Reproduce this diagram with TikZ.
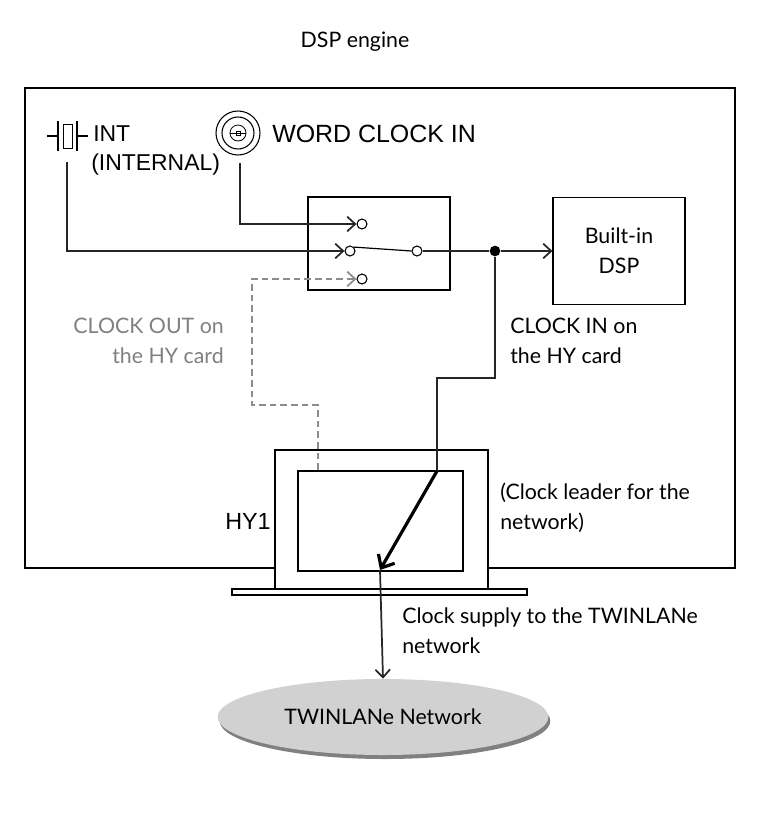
\documentclass[tikz,border=0pt]{standalone}
\usepackage{fontspec}
\setmainfont{Lato}
\newfontfamily\arialf{Liberation Sans}
\usetikzlibrary{arrows.meta,shapes.geometric}
\begin{document}
\begin{tikzpicture}[x=0.75pt,y=-0.75pt,
  txt/.style={font=\fontsize{16}{22.5}\selectfont,inner sep=0,align=left},
  atxt/.style={font=\arialf\fontsize{17.2}{23}\selectfont,inner sep=0,align=left},
  wire/.style={line width=1.3pt,draw=black!85},
  arr/.style={-{Straight Barb[length=6pt,width=11pt]}},
  dashw/.style={line width=1.3pt,draw=black!45,dash pattern=on 5pt off 3pt},
  cont/.style={circle,draw,line width=0.8pt,minimum size=7.5pt,inner sep=0,fill=white}]
\useasboundingbox (0,0) rectangle (766,825);
\node[txt,anchor=center] (title) at (355,42) {DSP engine};
% frame
\draw[line width=1.6pt] (275,568) -- (25,568) -- (25,88) -- (735,88) -- (735,568) -- (488,568);
% HY card
\draw[line width=1.4pt] (275,588) -- (275,450) -- (488,450) -- (488,588);
\draw[line width=0.9pt] (298,471) rectangle (463,571);
\draw[line width=1pt] (232,589) rectangle (527,595);
% switch box and DSP
\draw[line width=0.8pt] (308,197) rectangle (450,290);
\node[draw,line width=0.8pt,minimum width=99pt,minimum height=80pt,txt,align=center] (dsp) at (619,251) {Built-in\\DSP};
% crystal
\draw[line width=0.9pt] (47,136) -- (58,136) (58,121) -- (58,151) (77,121) -- (77,151) (77,136) -- (88,136);
\draw[line width=0.7pt] (63,124) rectangle (72,148);
\coordinate (xt) at (67,162);
\node[atxt,anchor=west] (int) at (93,134) {INT};
\node[atxt,anchor=west] (intl) at (91,165) {(INTERNAL)};
% BNC
\draw[line width=0.8pt] (238,133) circle (16.5pt);
\draw[line width=0.8pt] (238,133) circle (12pt);
\draw[line width=0.6pt] (238,133) circle (6pt);
\draw[line width=0.6pt] (230,133) -- (246,133);
\draw[line width=0.6pt] (236,131) rectangle (240,135);
\coordinate (bnc) at (240,163);
\node[atxt,anchor=west,font=\arialf\fontsize{18.7}{23}\selectfont] (wci) at (272,134) {WORD CLOCK IN};
% contacts
\node[cont] (c1) at (362,224) {};
\node[cont] (c2) at (350,251) {};
\node[cont] (c3) at (362,279) {};
\node[cont] (c4) at (417,251) {};
\draw[line width=0.9pt] (c2.north east) -- (c4.west);
\draw[wire,arr] (bnc) |- (c1.west);
\draw[wire,arr] (xt) |- (c2.west);
\draw[dashw,arr] (318,470) -- (318,405) -- (252,405) |- (c3.west);
\node[circle,fill=black,inner sep=0,minimum size=8pt] (dot) at (495,251) {};
\draw[wire] (c4.east) -- (dot);
\draw[wire,arr] (dot) -- (dsp.west);
\coordinate (ci) at (437,471);
\draw[wire] (dot) -- (495,378) -- (437,378) -- (ci);
\coordinate (lead) at (380,570);
\draw[line width=2.4pt,-{Straight Barb[length=8pt,width=14pt]}] (ci) -- (lead);
% network
\fill[black!50] (385,721) ellipse (124pt and 28.5pt);
\node[ellipse,fill=black!18,minimum width=248pt,minimum height=57pt,txt] (net) at (383,717) {TWINLANe Network};
\draw[wire,arr] (lead) -- (net.north);
% labels
\node[txt,anchor=north east,align=right,text=black!50] (co) at (224,318) {CLOCK OUT on\\the HY card};
\node[txt,anchor=north west] (cin) at (510,318) {CLOCK IN on\\the HY card};
\node[atxt,anchor=west,font=\arialf\fontsize{17.5}{24}\selectfont] (hy) at (225,521) {HY1};
\node[txt,anchor=north west] (cl) at (500,483) {(Clock leader for the\\network)};
\node[txt,anchor=north west] (cs) at (402,608) {Clock supply to the TWINLANe\\network};
\end{tikzpicture}
\end{document}
